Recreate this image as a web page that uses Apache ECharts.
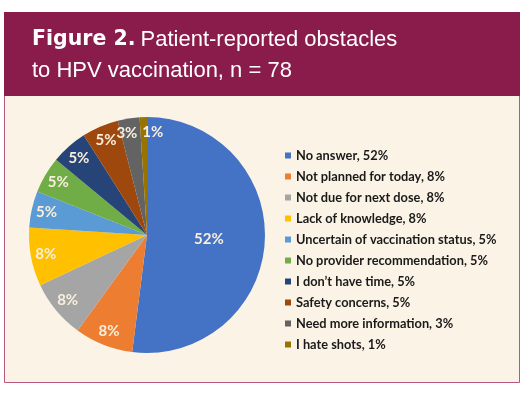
<!DOCTYPE html>
<html>
<head>
<meta charset="utf-8">
<script src="https://cdn.jsdelivr.net/npm/echarts@6/dist/echarts.min.js"></script>
<style>
html,body{margin:0;padding:0;background:#ffffff;}
#chart{width:530px;height:396px;}
</style>
</head>
<body>
<div id="chart"></div>
<script>
var categories = [
  'No answer',
  'Not planned for today',
  'Not due for next dose',
  'Lack of knowledge',
  'Uncertain of vaccination status',
  'No provider recommendation',
  'I don\u2019t have time',
  'Safety concerns',
  'Need more information',
  'I hate shots'
];
var percents = [52, 8, 8, 8, 5, 5, 5, 5, 3, 1];
var colors = ['#4472C4', '#ED7D31', '#A5A5A5', '#FFC000', '#5B9BD5', '#70AD47', '#264478', '#9E480E', '#636363', '#997300'];

var pieData = categories.map(function (c, i) {
  return { name: c, value: percents[i], itemStyle: { color: colors[i] }, label: { show: i === 0 } };
});
var outerLabelData = categories.map(function (c, i) {
  return { name: c, value: percents[i], label: { show: i !== 0 } };
});

var labelStyle = {
  color: '#f8efdc',
  fontFamily: 'Lato',
  fontWeight: 'bold',
  fontSize: 15,
  formatter: function (p) { return p.value + '%'; }
};

var chart = echarts.init(document.getElementById('chart'), null, { renderer: 'canvas' });
chart.setOption({
  animation: false,
  backgroundColor: '#ffffff',
  graphic: [
    { type: 'rect', z: -10, shape: { x: 4.5, y: 12.5, width: 515, height: 370 },
      style: { fill: '#fbf3e6', stroke: '#b8587f', lineWidth: 1 } },
    { type: 'rect', z: -9, shape: { x: 4, y: 12, width: 516, height: 84 },
      style: { fill: '#8a1c4b' } }
  ],
  title: {
    left: 27,
    top: 19,
    text: '{b|Figure 2.} {r|Patient-reported obstacles}\n{r|to HPV vaccination, n = 78}',
    textStyle: {
      rich: {
        b: { fontFamily: 'DejaVu Sans', fontWeight: 'bold', fontSize: 20.5, color: '#ffffff', lineHeight: 31 },
        r: { fontFamily: 'Liberation Sans', fontWeight: 'normal', fontSize: 22, color: '#ffffff', lineHeight: 31 }
      }
    }
  },
  legend: {
    orient: 'vertical',
    left: 280,
    top: 144,
    icon: 'rect',
    itemWidth: 6,
    itemHeight: 6,
    itemGap: 8,
    data: categories,
    textStyle: { fontFamily: 'Lato', fontWeight: 'bold', fontSize: 12.8, color: '#1a1a1a', lineHeight: 13 },
    formatter: function (name) {
      var i = categories.indexOf(name);
      return name + ', ' + percents[i] + '%';
    }
  },
  series: [
    {
      type: 'pie',
      center: [147, 235],
      radius: [0, 118],
      startAngle: 90,
      clockwise: true,
      silent: true,
      avoidLabelOverlap: false,
      minShowLabelAngle: 0,
      label: Object.assign({ show: true, position: 'inside' }, labelStyle),
      labelLine: { show: false },
      labelLayout: { hideOverlap: false },
      itemStyle: { borderWidth: 0 },
      data: pieData
    },
    {
      type: 'pie',
      center: [147, 235],
      radius: [82, 118],
      startAngle: 90,
      clockwise: true,
      silent: true,
      avoidLabelOverlap: false,
      minShowLabelAngle: 0,
      label: Object.assign({ show: true, position: 'inside' }, labelStyle),
      labelLine: { show: false },
      labelLayout: function (params) {
        if (params.dataIndex === 9) { return { dx: 9, hideOverlap: false }; }
        if (params.dataIndex === 8) { return { dx: -4, hideOverlap: false }; }
        return { hideOverlap: false };
      },
      itemStyle: { color: 'rgba(0,0,0,0)', borderWidth: 0 },
      data: outerLabelData
    }
  ]
});
</script>
</body>
</html>
